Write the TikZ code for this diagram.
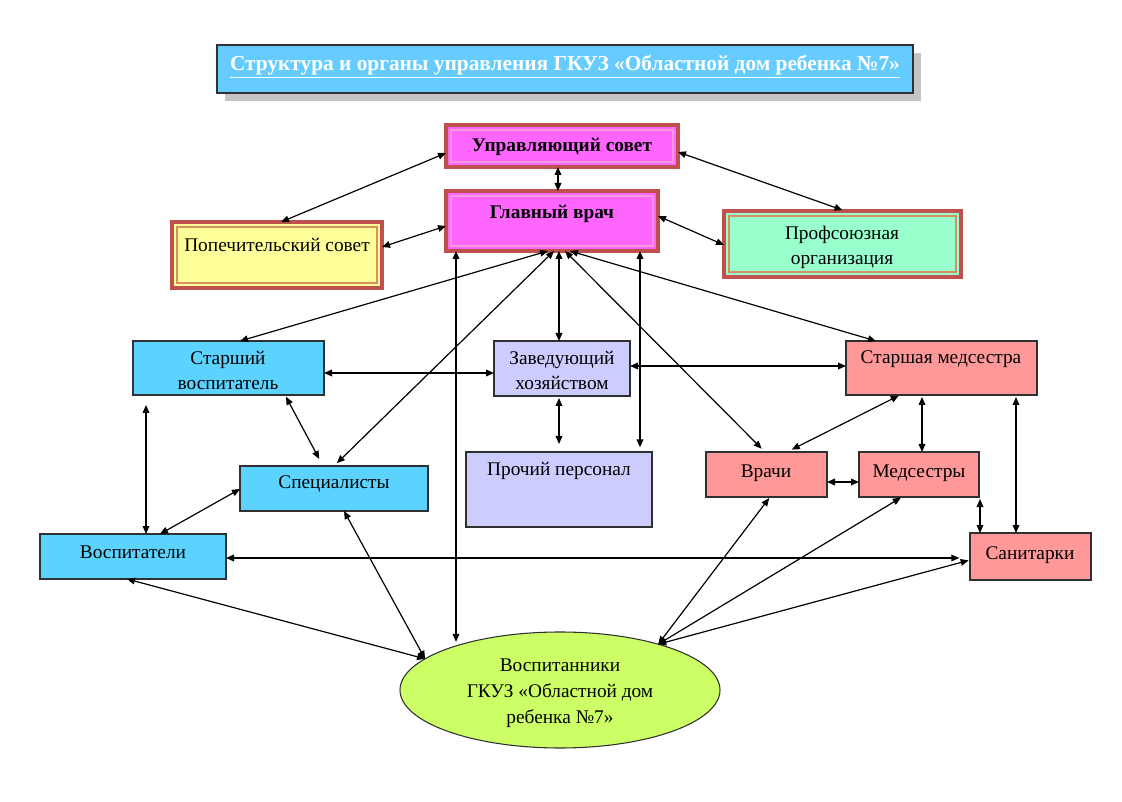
\documentclass[tikz,border=0pt]{standalone}
\usepackage{fontspec}
\setmainfont{Liberation Serif}
\usetikzlibrary{arrows.meta,shapes.geometric,calc}
\definecolor{titlefill}{HTML}{66CCFF}
\definecolor{shadowc}{HTML}{C4C4C4}
\definecolor{frame}{HTML}{C0504D}
\definecolor{magent}{HTML}{FF66FF}
\definecolor{yel}{HTML}{FFFF99}
\definecolor{mint}{HTML}{99FFCC}
\definecolor{blu}{HTML}{5CD3FF}
\definecolor{lav}{HTML}{CCCCFF}
\definecolor{pnk}{HTML}{FF9999}
\definecolor{lime}{HTML}{CCFF66}
\definecolor{boxline}{HTML}{303030}
\definecolor{innerpink}{HTML}{F49AD8}
\definecolor{innerorange}{HTML}{D89060}
\newcommand\mkbox[6]{\node[#6, minimum width={(#4-#2)*0.75pt}, minimum height={(#5-#3)*0.75pt}] (#1) at ({(#2+#4)/2},{(#3+#5)/2}) {};}
\begin{document}
\begin{tikzpicture}[x=0.75pt,y=-0.75pt,
  plainbox/.style={rectangle, draw=boxline, line width=0.8pt, inner sep=0pt, outer sep=0pt},
  framebox/.style={rectangle, draw=frame, line width=3.6pt, inner sep=0pt, outer sep=0pt},
  innerline/.style={line width=0.8pt},
  txt/.style={inner sep=0pt, align=center, font=\fontsize{14.5}{18.75}\selectfont},
  btxt/.style={inner sep=0pt, align=center, font=\fontsize{14.5}{18.75}\selectfont\bfseries},
  arr/.style={<->, >={Triangle[length=6pt,width=5pt]}, line width=0.9pt}]
\useasboundingbox (0,0) rectangle (1122,802);
\fill[white] (0,0) rectangle (1122,802);
% title
\fill[shadowc] (225,53) rectangle (921,101);
\mkbox{title}{217}{45}{913}{93}{plainbox, fill=titlefill}
\node[inner sep=0pt, text=white, font=\fontsize{16}{19}\selectfont\bfseries] (titleT) at (565,67) {\underline{Структура и органы управления ГКУЗ «Областной дом ребенка №7»}};
% framed boxes
\mkbox{us}{446}{125}{678}{167}{framebox, fill=magent}
\draw[innerline, innerpink] ($(us.north west)+(5,5)$) rectangle ($(us.south east)+(-5,-5)$);
\node[btxt] (usT) at (562,147) {Управляющий совет};
\mkbox{gv}{446}{191}{658}{251}{framebox, fill=magent}
\draw[innerline, innerpink] ($(gv.north west)+(5,5)$) rectangle ($(gv.south east)+(-5,-5)$);
\node[btxt] (gvT) at (552,214) {Главный врач};
\mkbox{ps}{172}{222}{382}{288}{framebox, fill=yel}
\draw[innerline, innerorange] ($(ps.north west)+(5,5)$) rectangle ($(ps.south east)+(-5,-5)$);
\node[txt] (psT) at (277,245) {Попечительский совет};
\mkbox{pf}{724}{211}{961}{277}{framebox, fill=mint}
\draw[innerline, innerorange] ($(pf.north west)+(5,5)$) rectangle ($(pf.south east)+(-5,-5)$);
\node[txt] (pfT) at (842,247) {Профсоюзная\\организация};
% plain boxes
\mkbox{sv}{133}{341}{324}{395}{plainbox, fill=blu}
\node[txt] (svT) at (228,370) {Старший\\воспитатель};
\mkbox{zh}{494}{341}{630}{396}{plainbox, fill=lav}
\node[txt] (zhT) at (562,370) {Заведующий\\хозяйством};
\mkbox{sm}{846}{341}{1037}{395}{plainbox, fill=pnk}
\node[txt] (smT) at (941,359) {Старшая медсестра};
\mkbox{sp}{240}{466}{428}{511}{plainbox, fill=blu}
\node[txt] (spT) at (334,484) {Специалисты};
\mkbox{pp}{466}{452}{652}{527}{plainbox, fill=lav}
\node[txt] (ppT) at (559,471) {Прочий персонал};
\mkbox{vr}{706}{452}{827}{497}{plainbox, fill=pnk}
\node[txt] (vrT) at (766,473) {Врачи};
\mkbox{ms}{859}{452}{979}{497}{plainbox, fill=pnk}
\node[txt] (msT) at (919,473) {Медсестры};
\mkbox{vs}{40}{534}{226}{579}{plainbox, fill=blu}
\node[txt] (vsT) at (133,552) {Воспитатели};
\mkbox{sn}{970}{533}{1091}{580}{plainbox, fill=pnk}
\node[txt] (snT) at (1030,555) {Санитарки};
% ellipse
\node[ellipse, draw=boxline, line width=0.8pt, fill=lime, minimum width=320*0.75pt, minimum height=116*0.75pt, inner sep=0pt, outer sep=0pt] (el) at (560,690) {};
\node[txt, font=\fontsize{14.5}{19.5}\selectfont] (elT) at (560,693) {Воспитанники\\ГКУЗ «Областной дом\\ребенка №7»};
% connectors
\draw[arr] (us.west |- 0,153) -- (281,0 |- ps.north);
\draw[arr] (558,0 |- us.south) -- (558,0 |- gv.north);
\draw[arr, shorten >=2pt] (us.east |- 0,152) -- (845,0 |- pf.north);
\draw[arr] (ps.east |- 0,247) -- (gv.west |- 0,226);
\draw[arr] (gv.east |- 0,216) -- (pf.west |- 0,245);
\draw[arr] (548,0 |- gv.south) -- (240,0 |- sv.north);
\draw[arr, shorten >=3pt] (554,0 |- gv.south) -- (334,0 |- sp.north);
\draw[arr] (559,0 |- gv.south) -- (559,0 |- zh.north);
\draw[arr, shorten >=3.5pt] (565,0 |- gv.south) -- (765,0 |- vr.north);
\draw[arr] (570,0 |- gv.south) -- (876,0 |- sm.north);
\draw[arr, shorten >=3pt] (456,0 |- gv.south) -- (456,0 |- el.157);
\draw[arr, shorten >=3.5pt] (640,0 |- gv.south) -- (640,0 |- pp.north);
\draw[arr] (sv.east |- 0,373) -- (zh.west |- 0,373);
\draw[arr] (zh.east |- 0,366) -- (sm.west |- 0,366);
\draw[arr, shorten <=1.5pt, shorten >=6pt] (559,0 |- zh.south) -- (559,0 |- pp.north);
\draw[arr, shorten <=1.5pt, shorten >=6pt] (285,0 |- sv.south) -- (323,0 |- sp.north);
\draw[arr, shorten <=7.5pt] (146,0 |- sv.south) -- (146,0 |- vs.north);
\draw[arr] (sp.west |- 0,489) -- (160,0 |- vs.north);
\draw[arr, shorten >=8pt] (vs.east |- 0,558) -- (sn.west |- 0,558);
\draw[arr] (127,0 |- vs.south) -- (el.167);
\draw[arr] (344,0 |- sp.south) -- (el.167);
\draw[arr, shorten <=1pt, shorten >=4pt] (900,0 |- sm.south) -- (787,0 |- vr.north);
\draw[arr, shorten <=1.5pt] (922,0 |- sm.south) -- (922,0 |- ms.north);
\draw[arr, shorten <=1.5pt] (1016,0 |- sm.south) -- (1016,0 |- sn.north);
\draw[arr] (vr.east |- 0,482) -- (ms.west |- 0,482);
\draw[arr, shorten <=1.5pt] (980,0 |- ms.south) -- (980,0 |- sn.north);
\draw[arr, shorten >=1pt] (el.25) -- (770,0 |- vr.south);
\draw[arr, shorten >=1pt] (el.25) -- (902,0 |- ms.south);
\draw[arr, shorten >=1pt] (el.25) -- (sn.west |- 0,560);
\end{tikzpicture}
\end{document}
